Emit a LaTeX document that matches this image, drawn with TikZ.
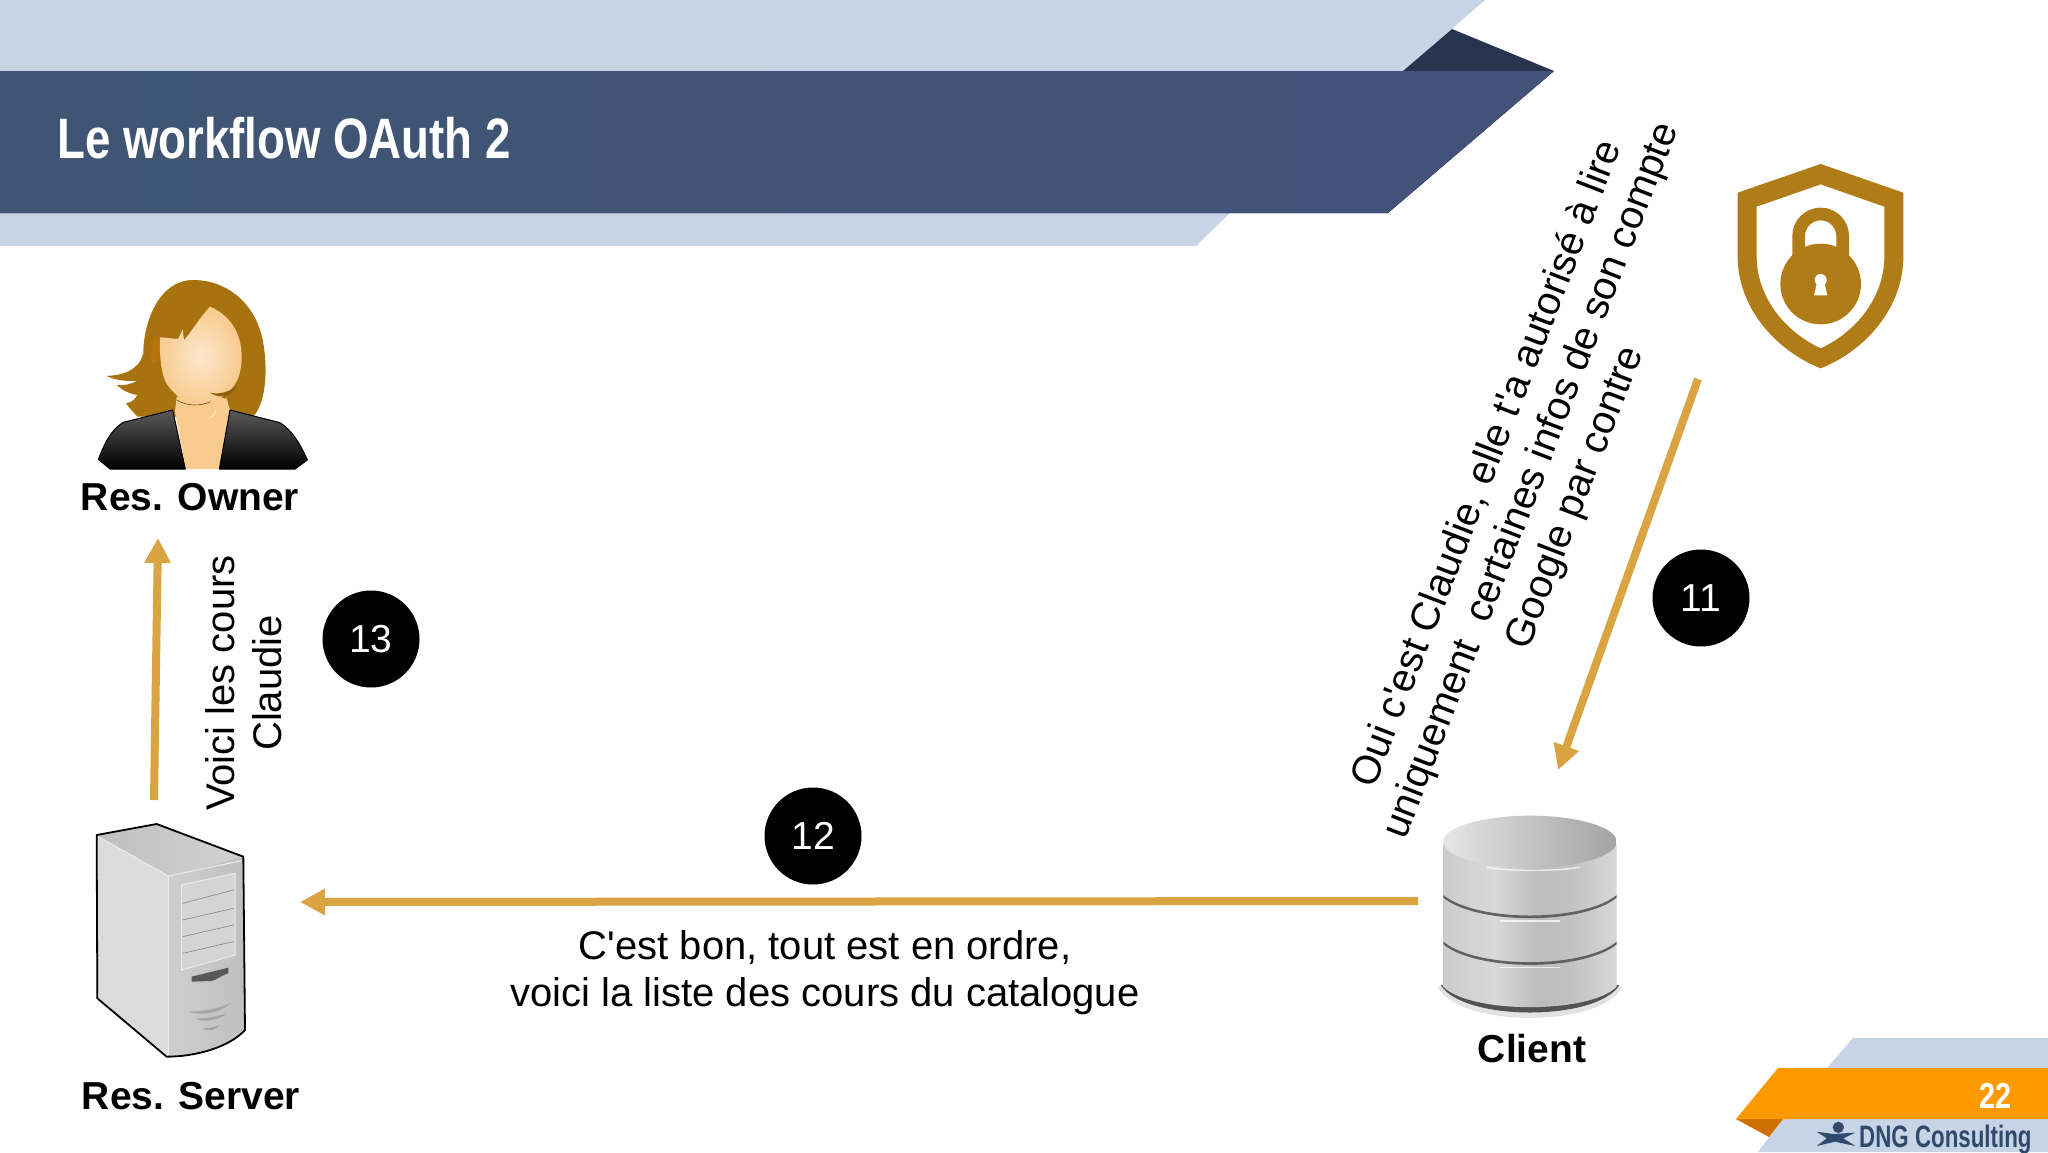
\documentclass[tikz,border=0pt]{standalone}
\usepackage{fontspec}
\setmainfont{Liberation Sans}
\newfontfamily\condfont[FakeStretch=0.72]{Liberation Sans}
\newfontfamily\titlefont[FakeStretch=0.80]{Liberation Sans Bold}
\usetikzlibrary{arrows.meta}
\definecolor{lightband}{HTML}{C7D4E6}
\definecolor{bandA}{HTML}{3F5573}
\definecolor{bandB}{HTML}{435279}
\definecolor{foldblue}{HTML}{28334F}
\definecolor{arrowgold}{HTML}{D9A441}
\definecolor{shieldgold}{HTML}{B07C17}
\definecolor{hair}{HTML}{A8720F}
\definecolor{skin}{HTML}{F9CB8F}
\definecolor{footorange}{HTML}{FF9900}
\definecolor{footfold}{HTML}{CC7000}
\definecolor{footblue}{HTML}{2F4A6D}
\pgfdeclarehorizontalshading{cylshade}{100bp}{color(0bp)=(black!30); color(8bp)=(black!30); color(25bp)=(black!20); color(40bp)=(black!15); color(52bp)=(black!26); color(62bp)=(black!24); color(78bp)=(black!13); color(92bp)=(black!18); color(100bp)=(black!30)}
\tikzset{
  flow/.style={draw=arrowgold,line width=8pt,-{Triangle[length=25pt,width=25pt]}},
  badge/.style={circle,fill=black,text=white,minimum size=97pt,inner sep=0pt,font=\fontsize{39}{44}\selectfont},
  actor/.style={font=\bfseries\fontsize{39}{46}\selectfont,text=black,inner sep=0pt},
  msg/.style={font=\fontsize{40}{47}\selectfont,text=black,inner sep=0pt,align=center},
  zoomA/.style={x=0.33333pt,y=-0.33333pt}
}
\begin{document}
\begin{tikzpicture}[x=1pt,y=-1pt]
\useasboundingbox (0,0) rectangle (2048,1152);
\fill[white] (0,0) rectangle (2048,1152);
% header
\fill[lightband] (0,0) -- (1485,0) -- (1403,71) -- (0,71) -- cycle;
\fill[lightband] (0,213) -- (1230,213) -- (1196,246) -- (0,246) -- cycle;
\fill[foldblue] (1452,29) -- (1554,71) -- (1403,71) -- cycle;
\fill[left color=bandA,right color=bandB] (0,71) -- (1554,71) -- (1388,213) -- (0,213) -- cycle;
\node[anchor=base west,inner sep=0pt,text=white,font=\titlefont\fontsize{57}{60}\selectfont] (title) at (57,158) {Le workflow OAuth 2};
% footer
\fill[lightband] (1853,1038) -- (2048,1038) -- (2048,1152) -- (1758,1152) -- (1783,1119) -- cycle;
\fill[footfold] (1736,1119) -- (1783,1119) -- (1769,1137) -- cycle;
\fill[footorange] (1778,1068) -- (2048,1068) -- (2048,1119) -- (1736,1119) -- cycle;
\node[inner sep=0pt,text=white,font=\titlefont\fontsize{36}{40}\selectfont] (page) at (1995,1096) {22};
\node[anchor=base west,inner sep=0pt,text=footblue,font=\condfont\bfseries\fontsize{31}{36}\selectfont] (brand) at (1859,1147) {DNG Consulting};
\begin{scope}[shift={(1720,1020)},zoomA]
\fill[footblue] (355,322) circle (17);
\fill[footblue] (290,335) -- (340,342) -- (405,338) -- (370,355) -- (406,378) -- (345,365) -- (290,378) -- (320,355) -- cycle;
\end{scope}
% Resource owner icon
\begin{scope}[shift={(60,260)},zoomA]
\fill[hair] (400,60) .. controls (500,60) and (590,130) .. (610,250)
  .. controls (625,340) and (615,430) .. (580,470) -- (232,470)
  .. controls (222,458) and (208,445) .. (198,430) .. controls (212,428) and (224,420) .. (232,405)
  .. controls (205,400) and (185,390) .. (170,375) .. controls (190,378) and (215,372) .. (232,362)
  .. controls (195,365) and (165,360) .. (140,348) .. controls (185,345) and (235,335) .. (250,280)
  .. controls (250,190) and (295,60) .. (400,60) -- cycle;
\fill[hair!85!orange] (280,222) -- (298,232) -- (298,300) -- (272,310) -- cycle;
\fill[skin] (350,410) -- (345,455) -- (378,627) -- (478,627) -- (510,450) -- (500,415) -- cycle;
\shade[inner color=skin!45!white,outer color=skin] (450,140) .. controls (510,165) and (545,220) .. (545,290)
  .. controls (545,340) and (530,375) .. (505,395) .. controls (475,425) and (445,437) .. (415,435)
  .. controls (385,435) and (350,410) .. (330,385) .. controls (305,360) and (298,300) .. (300,232)
  .. controls (320,232) and (345,238) .. (355,236) -- (368,208) -- (372,240) .. controls (395,215) and (425,165) .. (450,140) -- cycle;
\fill[hair!85!black] (450,398) .. controls (480,405) and (510,395) .. (532,375) .. controls (525,400) and (490,425) .. (450,398) -- cycle;
\draw[hair!70!black,line width=0.6pt] (350,420) .. controls (380,438) and (420,440) .. (452,425);
\fill[white,opacity=.5] (445,475) .. controls (455,470) and (465,455) .. (470,445) .. controls (470,460) and (460,475) .. (445,475) -- cycle;
\shade[top color=black!65,bottom color=black,draw=black,line width=1pt,line join=round]
  (115,598) .. controls (130,560) and (150,510) .. (190,487) -- (338,450) -- (376,627) -- (150,627) -- cycle;
\shade[top color=black!65,bottom color=black,draw=black,line width=1pt,line join=round]
  (510,450) -- (660,488) .. controls (695,510) and (720,550) .. (742,600) -- (705,627) -- (478,627) -- cycle;
\end{scope}
\node[actor] (owner) at (190,497) {Res. Owner};
% Resource server icon
\begin{scope}[shift={(70,800)},zoomA]
\fill[black!14] (80,105) -- (295,225) -- (295,768) -- (80,595) -- cycle;
\shade[left color=black!25,right color=black!18] (80,105) -- (260,72) -- (520,170) -- (295,228) -- cycle;
\shade[left color=black!19,right color=black!25] (295,228) -- (520,170) -- (525,690) .. controls (480,740) and (380,768) .. (295,768) -- cycle;
\draw[black!7,line width=1pt] (85,110) -- (295,228) -- (515,182);
\draw[black!7,line width=1pt] (295,228) -- (295,765);
\fill[black!17,draw=black!8,line width=1pt] (335,255) -- (495,220) -- (495,465) -- (335,510) -- cycle;
\foreach \a/\b in {310/270,360/325,410/375,460/425}{
  \draw[black!45,line width=0.7pt] (338,\a) -- (490,\b);
}
\fill[black!65] (365,530) -- (475,503) -- (475,520) .. controls (450,528) and (440,540) .. (425,543) -- (365,545) -- cycle;
\fill[black!35] (355,635) .. controls (400,635) and (450,625) .. (482,608) .. controls (460,635) and (400,650) .. (355,635) -- cycle;
\fill[black!35] (375,655) .. controls (410,655) and (440,650) .. (470,640) .. controls (450,660) and (400,670) .. (375,655) -- cycle;
\fill[black!35] (398,685) .. controls (415,685) and (435,680) .. (450,675) .. controls (440,692) and (410,695) .. (398,685) -- cycle;
\draw[black,line width=1.8pt,line join=round] (80,105) -- (260,72) -- (520,170) -- (525,690) .. controls (480,740) and (380,770) .. (290,770) -- (82,595) -- cycle;
\end{scope}
\node[actor] (server) at (191,1096) {Res. Server};
% Client icon
\begin{scope}[shift={(1400,790)},zoomA]
\fill[black!25,opacity=.45] (112,590) .. controls (180,715) and (600,715) .. (668,590) -- cycle;
\fill[black!68] (122,585) .. controls (190,695) and (590,695) .. (658,585) -- cycle;
\shade[shading=cylshade] (130,160) -- (130,590) .. controls (210,672) and (570,672) .. (650,590) -- (650,160) -- cycle;
\foreach \r in {315,455}{
  \fill[black!62] (130,\r) .. controls (230,\r+82) and (550,\r+82) .. (650,\r)
    -- (650,\r+8) .. controls (550,\r+90) and (230,\r+90) .. (130,\r+8) -- cycle;
}
\draw[white,opacity=.75,line width=1.2pt] (300,393) -- (480,393);
\draw[white,opacity=.75,line width=1.2pt] (300,533) -- (480,533);
\shade[left color=black!10,right color=black!36] (390,155) ellipse (260 and 78);
\draw[white,opacity=.7,line width=1.5pt] (260,232) .. controls (320,243) and (460,245) .. (540,232);
\end{scope}
\node[actor] (client) at (1532,1049) {Client};
% Shield icon
\begin{scope}[shift={(1700,140)},zoomA]
\fill[shieldgold,even odd rule]
  (362,72) -- (610,158) -- (610,350) .. controls (610,500) and (500,630) .. (362,685)
  .. controls (224,630) and (113,500) .. (113,350) -- (113,158) -- cycle
  (362,133) -- (553,200) -- (553,350) .. controls (553,470) and (470,575) .. (362,625)
  .. controls (254,575) and (170,470) .. (170,350) -- (170,200) -- cycle;
\draw[shieldgold,line width=12.7pt] (296,370) -- (296,288) arc (180:360:66) -- (428,370);
\fill[shieldgold] (362,432) circle (121);
\fill[white] (362,420) circle (18);
\fill[white] (352,425) -- (372,425) -- (382,466) -- (342,466) -- cycle;
\end{scope}
% badges
\node[badge] (b11) at (1701,598) {11};
\node[badge] (b12) at (813,836) {12};
\node[badge] (b13) at (371,639) {13};
% connector ends
\coordinate (s13) at (154,800);
\coordinate (e13) at (158,538);
\coordinate (s12) at (1418,901);
\coordinate (e12) at (300,902);
\coordinate (s11) at (1698,379);
\coordinate (e11) at (1558,770);
\draw[flow] (s13) -- (e13);
\draw[flow] (s12) -- (e12);
\draw[flow] (s11) -- (e11);
% labels
\node[msg,rotate=90] (l13) at (244,683) {Voici les cours\\Claudie};
\node[msg] (l12) at (825,973) {C\textquotesingle est bon, tout est en ordre,\\voici la liste des cours du catalogue};
\node[msg,rotate=69] (l11) at (1532,481) {Oui c\textquotesingle est Claudie, elle t\textquotesingle a autorisé à lire\\uniquement\ \ certaines infos de son compte\\Google par contre};
\end{tikzpicture}
\end{document}
